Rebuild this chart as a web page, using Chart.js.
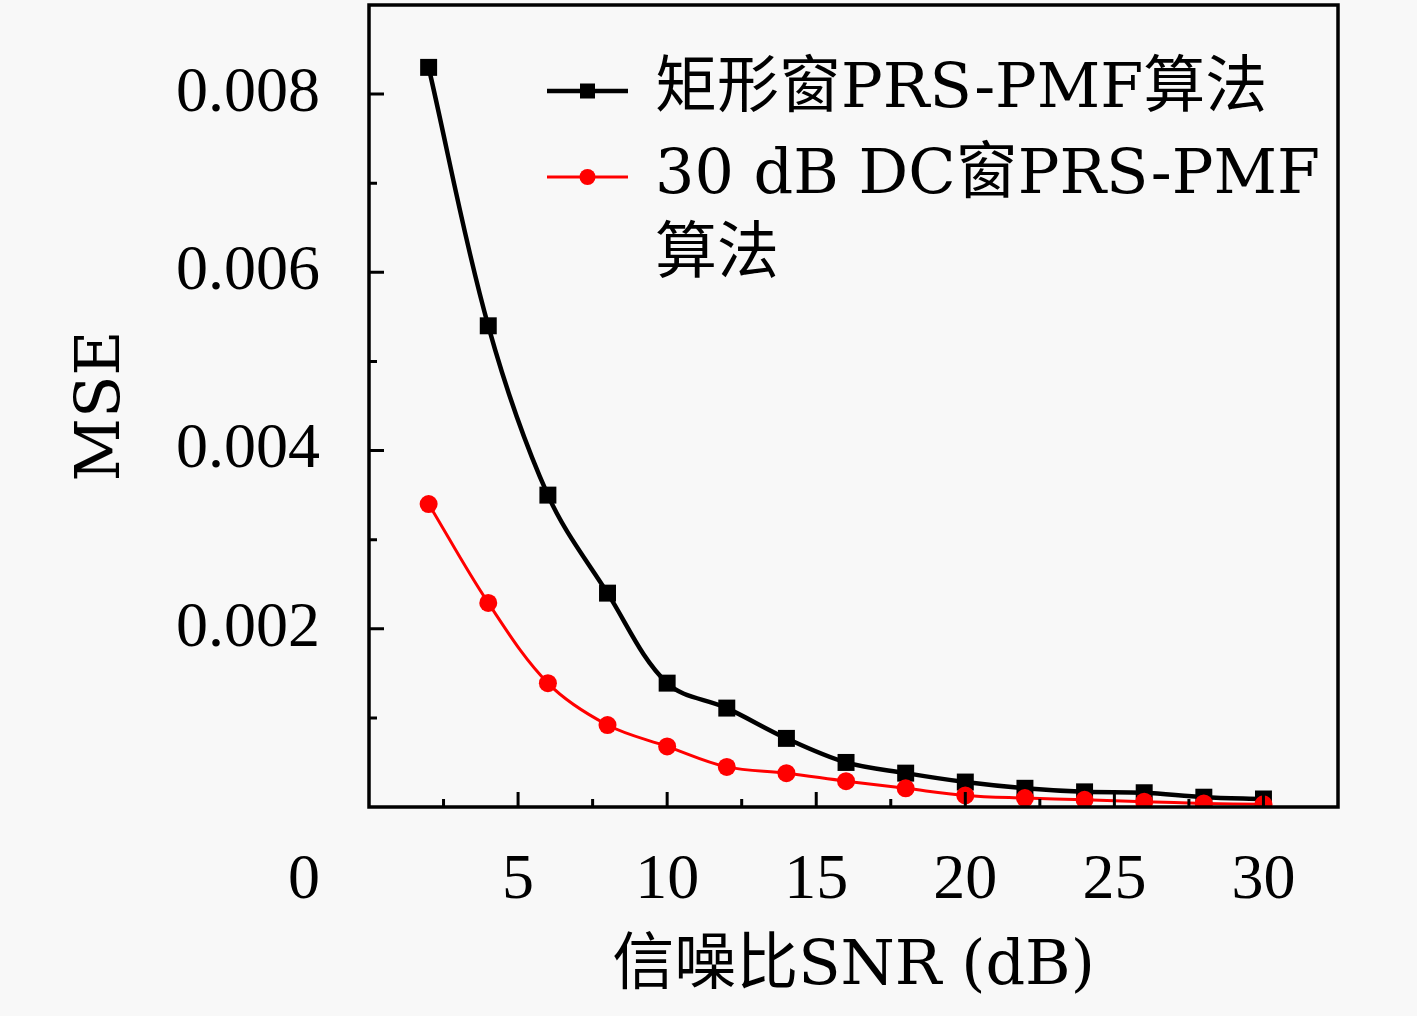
<!DOCTYPE html>
<html>
<head>
<meta charset="utf-8">
<script src="https://cdn.jsdelivr.net/npm/chart.js@4.4.0/dist/chart.umd.min.js"></script>
<style>
html, body { margin: 0; padding: 0; background: #f8f8f8; }
#wrap { width: 1417px; height: 1016px; }
</style>
</head>
<body>
<div id="wrap"><canvas id="myChart"></canvas></div>
<script>
'use strict';
// SNR (dB) on x, MSE on y
var snr = [2, 4, 6, 8, 10, 12, 14, 16, 18, 20, 22, 24, 26, 28, 30];
var mseRect = [0.0083, 0.0054, 0.0035, 0.0024, 0.00139, 0.00111, 0.00077, 0.0005, 0.00038, 0.00028, 0.00021, 0.00017, 0.00016, 0.00011, 0.00009];
var mseDC = [0.0034, 0.00229, 0.00139, 0.00092, 0.00068, 0.00045, 0.00038, 0.00029, 0.00021, 0.00013, 0.0001, 0.00008, 0.00006, 0.00004, 0.00003];
var seriesNames = [['矩形窗PRS-PMF算法'], ['30 dB DC窗PRS-PMF', '算法']];
var xTicks = [5, 10, 15, 20, 25, 30];
var yTicks = [0.002, 0.004, 0.006, 0.008];
var xMinorStep = 2.5;
var yMinorStep = 0.001;

var tickFont = { family: '"Liberation Serif", serif', size: 64 };
var textFont = '62px "DejaVu Serif", "Noto Sans CJK SC", serif';

function pts(ys) {
    return snr.map(function(x, i) { return { x: x, y: ys[i] }; });
}

function noPad(scale) {
    scale.paddingTop = 0;
    scale.paddingBottom = 0;
    scale.paddingLeft = 0;
    scale.paddingRight = 0;
}

var frame = {
    id: 'frame',
    afterDraw: function(chart) {
        var ctx = chart.ctx, a = chart.chartArea;
        var xs = chart.scales.x, ys = chart.scales.y;
        ctx.save();
        ctx.strokeStyle = '#000';
        ctx.lineWidth = 3.5;
        ctx.strokeRect(a.left, a.top, a.right - a.left, a.bottom - a.top);

        // inward ticks on bottom and left axes
        ctx.lineWidth = 3;
        ctx.beginPath();
        for (var i = 1; i * xMinorStep < xs.max; i++) {
            var px = xs.getPixelForValue(i * xMinorStep);
            var len = (i % 2 === 0) ? 15 : 8;
            ctx.moveTo(px, a.bottom);
            ctx.lineTo(px, a.bottom - len);
        }
        for (var j = 1; j * yMinorStep < ys.max - 1e-9; j++) {
            var py = ys.getPixelForValue(j * yMinorStep);
            var len2 = (j % 2 === 0) ? 15 : 8;
            ctx.moveTo(a.left, py);
            ctx.lineTo(a.left + len2, py);
        }
        ctx.stroke();

        // shared origin label
        ctx.fillStyle = '#000';
        ctx.font = tickFont.size + 'px ' + tickFont.family;
        ctx.textAlign = 'right';
        ctx.textBaseline = 'middle';
        ctx.fillText('0', a.left - 49, a.bottom + 36 + 38);

        // legend
        var sets = chart.data.datasets;
        var rowY = [a.top + 86, a.top + 172];
        ctx.font = textFont;
        ctx.textAlign = 'left';
        sets.forEach(function(ds, k) {
            var y = rowY[k];
            var x0 = a.left + 178, x1 = a.left + 259, xm = (x0 + x1) / 2;
            ctx.strokeStyle = ds.borderColor;
            ctx.lineWidth = ds.borderWidth;
            ctx.beginPath();
            ctx.moveTo(x0, y);
            ctx.lineTo(x1, y);
            ctx.stroke();
            ctx.fillStyle = ds.pointBackgroundColor;
            if (ds.pointStyle === 'rect') {
                ctx.fillRect(xm - 7.5, y - 7.5, 15, 15);
            } else {
                ctx.beginPath();
                ctx.arc(xm, y, 8, 0, Math.PI * 2);
                ctx.fill();
            }
            ctx.fillStyle = '#000';
            ds.legendLines.forEach(function(t, n) {
                ctx.fillText(t, a.left + 286, y + n * 80);
            });
        });
        ctx.restore();
    }
};

var ctx = document.getElementById('myChart').getContext('2d');
var myChart = new Chart(ctx, {
    type: 'line',
    data: {
        datasets: [{
            label: seriesNames[0].join(''),
            legendLines: seriesNames[0],
            data: pts(mseRect),
            borderColor: '#000000',
            backgroundColor: '#000000',
            pointBackgroundColor: '#000000',
            pointBorderColor: '#000000',
            pointStyle: 'rect',
            pointRadius: 12,
            pointBorderWidth: 0,
            borderWidth: 4.5,
            tension: 0.35,
            fill: false,
            order: 2
        }, {
            label: seriesNames[1].join(''),
            legendLines: seriesNames[1],
            data: pts(mseDC),
            borderColor: '#ff0000',
            backgroundColor: '#ff0000',
            pointBackgroundColor: '#ff0000',
            pointBorderColor: '#ff0000',
            pointStyle: 'circle',
            pointRadius: 9,
            pointBorderWidth: 0,
            borderWidth: 3,
            tension: 0.35,
            fill: false,
            order: 1
        }]
    },
    options: {
        responsive: true,
        maintainAspectRatio: false,
        animation: false,
        layout: { autoPadding: false, padding: { top: 5, right: 79, left: 0, bottom: 0 } },
        plugins: {
            legend: { display: false },
            tooltip: { enabled: false }
        },
        scales: {
            x: {
                type: 'linear',
                min: 0,
                max: 32.5,
                afterBuildTicks: function(scale) {
                    scale.ticks = xTicks.map(function(v) { return { value: v }; });
                },
                afterFit: function(scale) { scale.height = 209; noPad(scale); },
                grid: { display: false, drawTicks: false },
                border: { display: false },
                ticks: {
                    color: '#000',
                    font: tickFont,
                    padding: 36,
                    maxRotation: 0,
                    autoSkip: false
                },
                title: {
                    display: true,
                    text: '信噪比SNR (dB)',
                    color: '#000',
                    font: { family: '"DejaVu Serif", "Noto Sans CJK SC", serif', size: 62 },
                    padding: { top: 0, bottom: 11 }
                }
            },
            y: {
                min: 0,
                max: 0.009,
                afterBuildTicks: function(scale) {
                    scale.ticks = yTicks.map(function(v) { return { value: v }; });
                },
                afterFit: function(scale) { scale.width = 369; noPad(scale); },
                grid: { display: false, drawTicks: false },
                border: { display: false },
                ticks: {
                    color: '#000',
                    font: tickFont,
                    padding: 49,
                    autoSkip: false,
                    callback: function(v) { return v.toFixed(3); }
                },
                title: {
                    display: true,
                    text: 'MSE',
                    color: '#000',
                    font: { family: '"DejaVu Serif", serif', size: 62 },
                    padding: { top: 66, bottom: 0 }
                }
            }
        }
    },
    plugins: [frame]
});
</script>
</body>
</html>
